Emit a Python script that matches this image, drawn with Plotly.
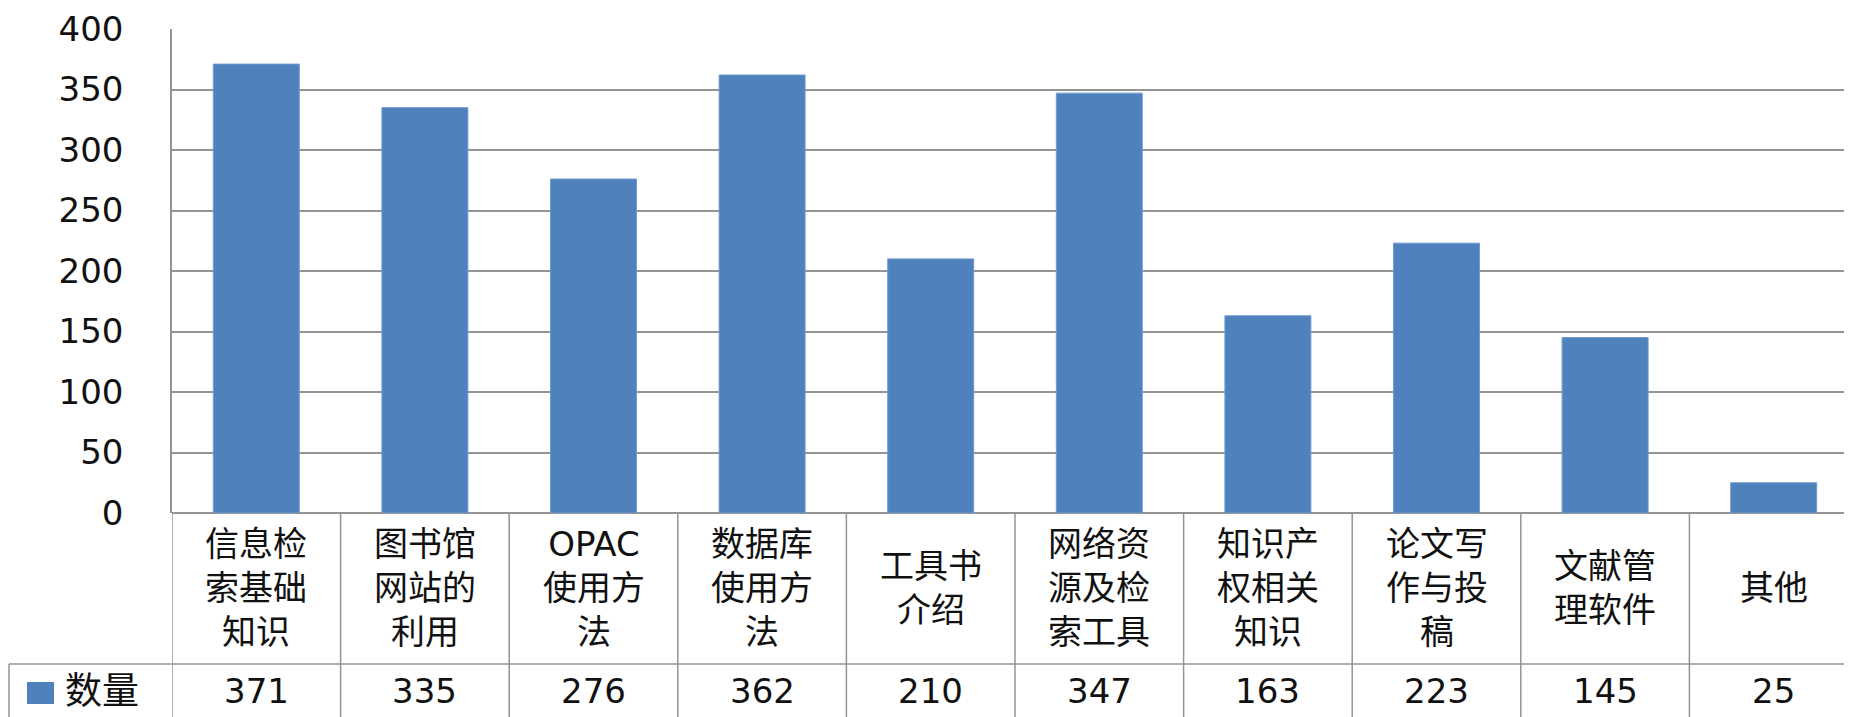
import plotly.graph_objects as go

categories = ["信息检<br>索基础<br>知识", "图书馆<br>网站的<br>利用", "OPAC<br>使用方<br>法", "数据库<br>使用方<br>法",
              "工具书<br>介绍", "网络资<br>源及检<br>索工具", "知识产<br>权相关<br>知识", "论文写<br>作与投<br>稿",
              "文献管<br>理软件", "其他"]
series_name = "数量"
values = [371, 335, 276, 362, 210, 347, 163, 223, 145, 25]
y_ticks = [0, 50, 100, 150, 200, 250, 300, 350, 400]

BLUE = "#4F81BD"
GRID = "#949494"
FONT = "DejaVu Sans, Noto Sans CJK SC"

OFF = 8  # default body margin of the html page
W, H = 1852 - OFF, 717 - OFF
L, T = 172 - OFF, 29 - OFF
ZERO = 513 - OFF
B = H - ZERO
plot_h = ZERO - T
plot_w = W - L
xs = list(range(len(categories)))

fig = go.Figure()
fig.add_trace(go.Bar(x=xs, y=values, width=0.51, marker=dict(color=BLUE, line=dict(color="#6f9bd1", width=1)),
                     showlegend=False, hoverinfo="x+y"))

def py(px):
    # pixel offset below plot bottom -> paper y
    return -px / plot_h

def pxx(x):
    # absolute reference pixel x -> paper x
    return (x - OFF - L) / plot_w

row_line = py(664 - 513)
bottom = py(730 - 513)

shapes = []
for i in range(len(categories) + 1):
    shapes.append(dict(type="line", xref="x", yref="paper", x0=i - 0.5, x1=i - 0.5, y0=0, y1=bottom,
                       line=dict(color=GRID, width=1.5)))
left_paper = pxx(9)
shapes.append(dict(type="line", xref="paper", yref="paper", x0=left_paper, x1=1, y0=row_line, y1=row_line,
                   line=dict(color=GRID, width=1.5)))
shapes.append(dict(type="line", xref="paper", yref="paper", x0=left_paper, x1=left_paper, y0=row_line, y1=bottom,
                   line=dict(color=GRID, width=1.5)))
shapes.append(dict(type="rect", xref="paper", yref="paper", x0=pxx(27), x1=pxx(54), y0=py(682 - 513), y1=py(704 - 513),
                   fillcolor=BLUE, line=dict(width=0)))

annotations = []
cat_center = py(588 - 513)
val_center = py(691 - 513)
for x, c, v in zip(xs, categories, values):
    annotations.append(dict(x=x, y=cat_center, xref="x", yref="paper", text=c, showarrow=False,
                            xanchor="center", yanchor="middle", align="center",
                            font=dict(family=FONT, size=34, color="#111")))
    annotations.append(dict(x=x, y=val_center, xref="x", yref="paper", text=str(v), showarrow=False,
                            xanchor="center", yanchor="middle",
                            font=dict(family=FONT, size=34, color="#111")))
annotations.append(dict(x=pxx(63), y=val_center, xref="paper", yref="paper", text=series_name,
                        showarrow=False, xanchor="left", yanchor="middle",
                        font=dict(family=FONT, size=37, color="#111")))

per_cat = 168.6
x_max = -0.5 + plot_w / per_cat

fig.update_layout(
    width=W, height=H,
    margin=dict(l=L, r=0, t=T, b=B, pad=0),
    plot_bgcolor="white", paper_bgcolor="white",
    bargap=0.49,
    shapes=shapes, annotations=annotations,
    xaxis=dict(range=[-0.5, x_max], showticklabels=False, showgrid=False, zeroline=False,
               showline=False, ticks=""),
    yaxis=dict(range=[0, 400], tickvals=y_ticks, showgrid=True, gridcolor=GRID, gridwidth=1.5,
               zeroline=True, zerolinecolor=GRID, zerolinewidth=1.5,
               showline=True, linecolor=GRID, linewidth=1.5,
               ticks="outside", ticklen=40, tickcolor="rgba(0,0,0,0)",
               tickfont=dict(family=FONT, size=34, color="#111")),
    font=dict(family=FONT),
)

fig.write_html("out.html")
